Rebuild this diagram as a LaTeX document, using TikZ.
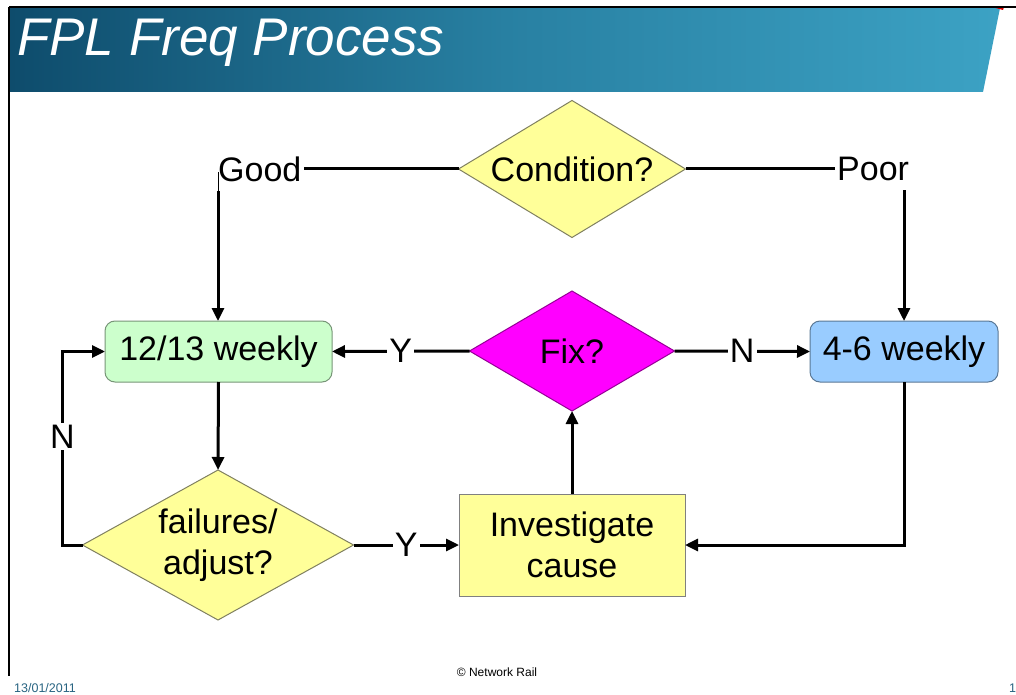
\documentclass[tikz,border=0pt]{standalone}
\usepackage{fontspec}
\setmainfont{Liberation Sans}
\usetikzlibrary{shapes.geometric,arrows.meta}

\definecolor{hdrdark}{RGB}{14,76,108}
\definecolor{hdrmid}{RGB}{40,128,162}
\definecolor{hdrlight}{RGB}{60,162,196}
\definecolor{pale}{RGB}{255,255,153}
\definecolor{paleedge}{RGB}{128,128,96}
\definecolor{mint}{RGB}{204,255,204}
\definecolor{mintedge}{RGB}{120,150,120}
\definecolor{sky}{RGB}{153,204,255}
\definecolor{skyedge}{RGB}{90,120,150}
\definecolor{magentafill}{RGB}{255,0,255}
\definecolor{magentaedge}{RGB}{150,0,150}
\definecolor{datecol}{RGB}{40,100,130}

\tikzset{
  big/.style={font=\fontsize{34}{41}\selectfont, text=black},
  decision/.style={diamond, draw=paleedge, line width=1pt, fill=pale,
                   inner sep=0pt, outer sep=0pt},
  roundbox/.style={rectangle, rounded corners=10pt, line width=1pt,
                   inner sep=0pt, outer sep=0pt, big},
  squarebox/.style={rectangle, draw=gray, line width=1pt, fill=pale,
                   inner sep=0pt, outer sep=0pt, big, align=center},
  conn/.style={line width=3pt, draw=black},
  arr/.style={conn, -{Triangle[length=13pt,width=12pt]}},
  lbl/.style={big, fill=white, inner sep=2pt},
  small/.style={font=\fontsize{12.5}{12.5}\selectfont, inner sep=0pt},
}

\begin{document}
\begin{tikzpicture}[x=1pt,y=-1pt]
\useasboundingbox (0,0) rectangle (1016,695);
\fill[white] (0,0) rectangle (1016,695);

% slide header band
\shade[left color=hdrdark, right color=hdrlight, middle color=hdrmid]
  (10,8) -- (1000,8) -- (983,92) -- (10,92) -- cycle;
\fill[red!85!black] (992,7) -- (1004,7) -- (1003,10) -- cycle;
\draw[line width=2pt] (9,7) -- (1016,7);
\draw[line width=2pt] (9,7) -- (9,676);
\node[anchor=base west, inner sep=0pt, text=white,
      font=\fontsize{53}{53}\selectfont\itshape] (title) at (17,56) {FPL Freq Process};

% decisions
\node[decision, minimum width=227pt, minimum height=137pt] (cond) at (572,169) {};
\node[big] (condtxt) at (cond) {Condition?};
\node[decision, draw=magentaedge, fill=magentafill,
      minimum width=205pt, minimum height=120pt] (fix) at (572,351) {};
\node[big] (fixtxt) at (fix) {Fix?};
\node[decision, minimum width=271pt, minimum height=150pt] (fail) at (218,545) {};
\node[big, align=center] (failtxt) at (fail) {failures/\\adjust?};

% process boxes
\node[roundbox, draw=mintedge, fill=mint, minimum width=227pt, minimum height=61pt]
  (g12) at (218.5,351.5) {12/13 weekly};
\node[roundbox, draw=skyedge, fill=sky, minimum width=188pt, minimum height=61pt]
  (b46) at (904,351.5) {4-6 weekly};
\node[squarebox, minimum width=226pt, minimum height=102pt]
  (inv) at (572,545) {Investigate\\cause};

% branch labels of the condition check
\node[big, anchor=west, inner sep=2pt] (good) at (216,169) {Good};
\node[big, anchor=west, inner sep=2pt] (poor) at (835,169) {Poor};
\coordinate (goodtop) at (218,172);
\coordinate (goodfoot) at (218,191);
\coordinate (poorfoot) at (904,190);

% connectors
\draw[conn] (cond.west) -- (good.east);
\draw[conn] (cond.east) -- (poor.west);
\draw[line width=1pt] (goodtop) -- (goodfoot);
\draw[arr] (goodfoot) -- (goodfoot |- g12.north);
\draw[arr] (poorfoot) -- (b46.north);
\draw[arr] (fix.west) -- node[lbl] {Y} (g12.east);
\draw[arr] (fix.east) -- node[lbl] {N} (b46.west);
\draw[arr] (g12.south) -- (fail.north);
\draw[arr] (fail.west) -- ++(-20,0) |- node[lbl, pos=0.28] {N} (g12.west);
\draw[arr] (fail.east) -- node[lbl] {Y} (inv.west);
\draw[arr] (inv.north) -- (fix.south);
\draw[arr] (b46.south) |- (inv.east);

% footer
\node[small, font=\fontsize{12}{12}\selectfont] (copy) at (497,672) {© Network Rail};
\node[small, anchor=base west, text=datecol] (date) at (14,692) {13/01/2011};
\node[small, anchor=base west, text=datecol] (page) at (1009,692) {10};
\end{tikzpicture}
\end{document}
